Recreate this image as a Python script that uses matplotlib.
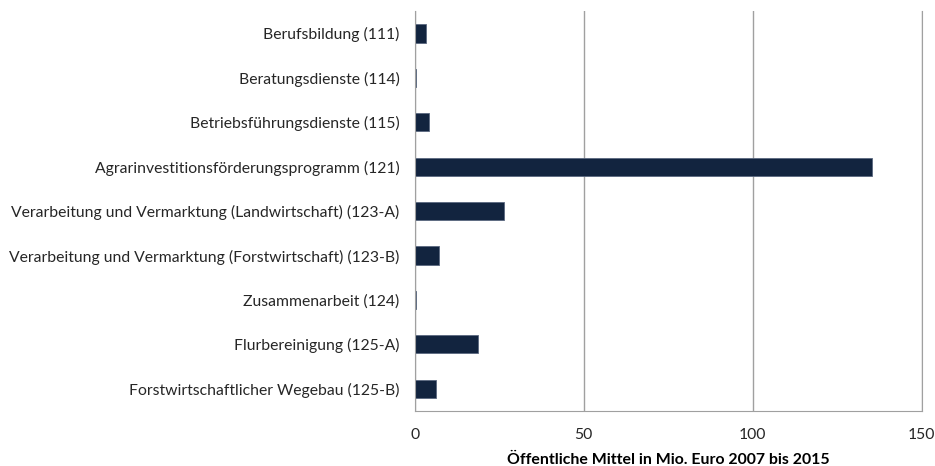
import matplotlib
matplotlib.use("Agg")
import matplotlib.pyplot as plt

categories = [
    "Berufsbildung (111)",
    "Beratungsdienste (114)",
    "Betriebsführungsdienste (115)",
    "Agrarinvestitionsförderungsprogramm (121)",
    "Verarbeitung und Vermarktung (Landwirtschaft) (123-A)",
    "Verarbeitung und Vermarktung (Forstwirtschaft) (123-B)",
    "Zusammenarbeit (124)",
    "Flurbereinigung (125-A)",
    "Forstwirtschaftlicher Wegebau (125-B)",
]
values = [3.4, 0.3, 4.2, 135.2, 26.5, 7.1, 0.3, 18.7, 6.4]
xticks = [0, 50, 100, 150]
xlabel = "Öffentliche Mittel in Mio. Euro 2007 bis 2015"

plt.rcParams['font.family'] = ['Lato', 'DejaVu Sans']

fig = plt.figure(figsize=(9.35, 4.66), dpi=100)
ax = fig.add_axes([0.4435, 0.118, 0.9856 - 0.4435, 0.976 - 0.118])

y = list(range(len(categories)))
ax.barh(y, values, height=0.41, color="#12243f", edgecolor="#5a6880", linewidth=0.6, zorder=3)
ax.set_ylim(len(categories) - 0.5, -0.5)
ax.set_xlim(0, 150)
ax.set_yticks(y)
ax.set_yticklabels(categories, fontsize=11.35, color="#262626")
ax.set_xticks(xticks)
ax.set_xticklabels([str(t) for t in xticks], fontsize=11.35, color="#262626")
ax.tick_params(axis='y', length=0, pad=11)
ax.tick_params(axis='x', length=0, pad=12)
ax.grid(axis='x', color="#a0a0a0", linewidth=1, zorder=0)
ax.spines['top'].set_visible(False)
for s in ['left', 'bottom', 'right']:
    ax.spines[s].set_color("#a0a0a0")
ax.spines['left'].set_zorder(4)
ax.set_xlabel(xlabel, fontsize=11.4, fontweight='bold', color="#000000", labelpad=8)

fig.savefig("out.png", dpi=100)
